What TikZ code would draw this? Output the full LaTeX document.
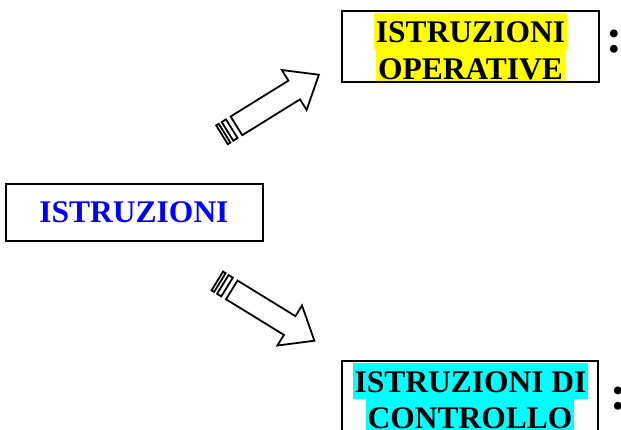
\documentclass[tikz,border=0pt]{standalone}
\usepackage{fontspec}
\setmainfont{Liberation Serif}
\definecolor{hlyellow}{RGB}{255,255,0}
\definecolor{hlcyan}{RGB}{0,255,255}
\definecolor{txtblue}{RGB}{0,0,255}
\begin{document}
\begin{tikzpicture}[x=1pt,y=-1pt,
  boxline/.style={draw=black, line width=1.5pt},
  lbl/.style={font=\bfseries\fontsize{31.5}{36}\selectfont, inner sep=0pt, anchor=base},
  hl/.style={font=\bfseries\fontsize{31.5}{36}\selectfont, inner xsep=2pt, inner ysep=0pt, text height=30pt, text depth=6pt, anchor=base},
  colon/.style={font=\bfseries\fontsize{48}{52}\selectfont, inner sep=0pt, anchor=base},
  blockarrow/.style={draw=black, line width=1.8pt, fill=white, line join=miter},
  stripedarrow/.pic={
    \draw[blockarrow] (0,-11) rectangle (3,11);
    \draw[blockarrow] (6.5,-11) rectangle (11.5,11);
    \draw[blockarrow] (17,-11) -- (85,-11) -- (85,-23.5) -- (114,0) -- (85,23.5) -- (85,11) -- (17,11) -- cycle;
  }]
\useasboundingbox (0,0) rectangle (621,430);
\clip (0,0) rectangle (621,430);
\fill[white] (0,0) rectangle (621,430);

% source box
\node[boxline, minimum width=257pt, minimum height=57pt, inner sep=0pt] (src) at (134.5,212.5) {};
\node[lbl, text=txtblue] (srctext) at (134,223) {ISTRUZIONI};

% top box: istruzioni operative
\node[minimum width=257pt, minimum height=71pt, inner sep=0pt] (op) at (470.5,46.5) {};
\begin{scope}
  \clip (op.north west) rectangle (op.south east);
  \node[hl, fill=hlyellow] (op1) at (470.5,42.7) {ISTRUZIONI};
  \node[hl, fill=hlyellow] (op2) at (470.5,79.3) {OPERATIVE};
\end{scope}
\draw[boxline] (op.north west) rectangle (op.south east);
\node[colon] (opcolon) at (614.7,52.5) {:};

% bottom box: istruzioni di controllo
\node[minimum width=256pt, minimum height=71pt, inner sep=0pt] (ctl) at (470,396.5) {};
\begin{scope}
  \clip (ctl.north west) rectangle (ctl.south east);
  \node[hl, fill=hlcyan] (ctl1) at (470.5,392.5) {ISTRUZIONI DI};
  \node[hl, fill=hlcyan] (ctl2) at (470,428.5) {CONTROLLO};
\end{scope}
\draw[boxline] (ctl.north west) rectangle (ctl.south east);
\node[colon] (ctlcolon) at (618.5,409) {:};

% striped block arrows
\pic[rotate=31.8] (uparrow) at (222,134.8) {stripedarrow};
\pic[rotate=-31.6] (downarrow) at (217.3,281) {stripedarrow};
\end{tikzpicture}
\end{document}
